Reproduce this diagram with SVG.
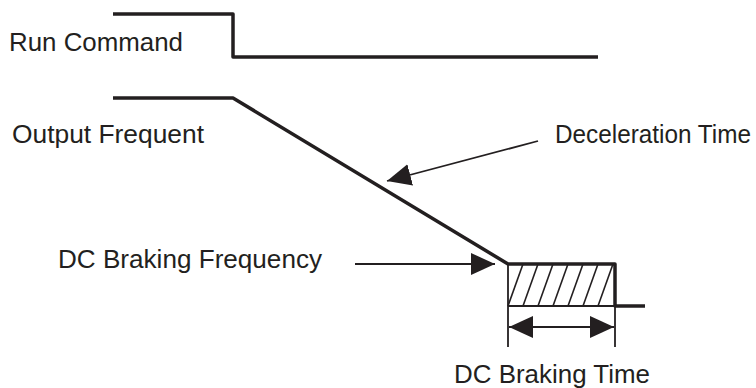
<svg xmlns="http://www.w3.org/2000/svg" width="756" height="388" viewBox="0 0 756 388">
<style>
.t{font-family:"Liberation Sans",Arial,sans-serif;font-size:25px;fill:#231f20}
.thick{fill:none;stroke:#231f20;stroke-width:3.5;stroke-linejoin:round}
.thin{fill:none;stroke:#231f20;stroke-width:1.8}
.hat{fill:none;stroke:#231f20;stroke-width:1.6}
</style>
<defs>
<marker id="ah" viewBox="0 0 24 22" refX="24" refY="11" markerWidth="24" markerHeight="22" markerUnits="userSpaceOnUse" orient="auto-start-reverse">
<path d="M0,0 L24,11 L0,22 Z" fill="#231f20"/>
</marker>
</defs>
<g id="run-command">
<text class="t" x="9" y="51" textLength="174" lengthAdjust="spacingAndGlyphs">Run Command</text>
<polyline class="thick" points="113,14 233,14 233,57 598,57"/>
</g>
<g id="output-frequency">
<text class="t" x="12" y="143" textLength="192" lengthAdjust="spacingAndGlyphs">Output Frequent</text>
<polyline class="thick" points="113,98 233,98 508,264 615,264 615,306 645,306"/>
</g>
<g id="dc-braking-box">
<polyline class="thin" points="508,264 508,347"/>
<polyline class="thin" points="615,264 615,347"/>
<line class="thin" x1="508" y1="306" x2="615" y2="306"/>
<g class="hat">
<line x1="508" y1="306" x2="523" y2="264"/>
<line x1="523" y1="306" x2="538" y2="264"/>
<line x1="538" y1="306" x2="553" y2="264"/>
<line x1="553" y1="306" x2="568" y2="264"/>
<line x1="568" y1="306" x2="583" y2="264"/>
<line x1="583" y1="306" x2="598" y2="264"/>
<line x1="598" y1="306" x2="613" y2="264"/>
</g>
</g>
<g id="label-deceleration"><text class="t" x="555" y="143" textLength="196" lengthAdjust="spacingAndGlyphs">Deceleration Time</text></g>
<g id="label-dc-freq"><text class="t" x="58" y="268" textLength="264" lengthAdjust="spacingAndGlyphs">DC Braking Frequency</text></g>
<g id="label-dc-time"><text class="t" x="454" y="383" textLength="196" lengthAdjust="spacingAndGlyphs">DC Braking Time</text></g>
<g id="connectors">
<line class="thin" x1="538" y1="141" x2="387" y2="181" marker-end="url(#ah)"/>
<line class="thin" x1="355" y1="264" x2="495" y2="264" marker-end="url(#ah)"/>
<line class="thin" x1="509" y1="327" x2="614" y2="327" marker-start="url(#ah)" marker-end="url(#ah)"/>
</g>
</svg>
